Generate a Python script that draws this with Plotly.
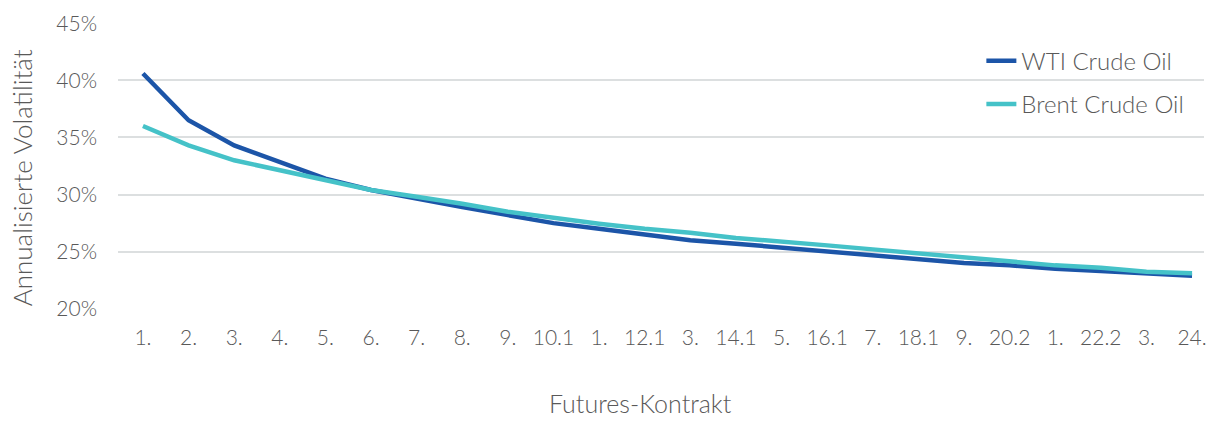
import plotly.graph_objects as go

contracts = list(range(1, 25))
tick_labels = ["1.", "2.", "3.", "4.", "5.", "6.", "7.", "8.", "9.", "10.1",
               "1.", "12.1", "3.", "14.1", "5.", "16.1", "7.", "18.1", "9.", "20.2",
               "1.", "22.2", "3.", "24."]
y_ticks = [20, 25, 30, 35, 40, 45]
y_tick_labels = ["20%", "25%", "30%", "35%", "40%", "45%"]
wti = [40.6, 36.5, 34.3, 32.8, 31.4, 30.4, 29.6, 28.9, 28.2, 27.5, 27.0, 26.5,
       26.0, 25.7, 25.35, 25.0, 24.65, 24.3, 24.0, 23.8, 23.5, 23.3, 23.1, 22.9]
brent = [36.0, 34.3, 33.0, 32.1, 31.2, 30.4, 29.8, 29.2, 28.5, 27.95, 27.45, 27.0,
         26.65, 26.2, 25.9, 25.55, 25.2, 24.85, 24.5, 24.1, 23.8, 23.6, 23.25, 23.1]

font_family = "Lato, 'Open Sans', sans-serif"
grey = "#595959"
W, H = 1207, 421

fig = go.Figure()
fig.add_trace(go.Scatter(x=contracts, y=wti, mode="lines", name="WTI Crude Oil",
                         legendgroup="a",
                         line=dict(color="#1c55a8", width=4.5)))
fig.add_trace(go.Scatter(x=contracts, y=brent, mode="lines", name="Brent Crude Oil",
                         legendgroup="b",
                         line=dict(color="#45c2c8", width=4.5)))

fig.update_layout(
    width=W, height=H,
    margin=dict(l=118, r=0, t=23, b=112),
    paper_bgcolor="white", plot_bgcolor="white",
    font=dict(family=font_family, color=grey, size=21, weight=300),
    showlegend=True,
    legend=dict(x=0.795, y=0.945, xanchor="left", yanchor="top",
                bgcolor="rgba(0,0,0,0)", tracegroupgap=9,
                font=dict(size=24, color=grey, weight=300)),
    xaxis=dict(
        tickmode="array", tickvals=contracts, ticktext=tick_labels,
        range=[0.453, 24.262], showgrid=False, zeroline=False, showline=False,
        ticks="", tickfont=dict(size=21, color=grey, weight=300), ticklabelstandoff=14,
        ticklabeloverflow="allow",
    ),
    yaxis=dict(
        range=[19.98, 45.02], tickmode="array", tickvals=y_ticks, ticktext=y_tick_labels,
        showgrid=True, gridcolor="#dcdfe0", gridwidth=1.5, zeroline=False, showline=False,
        ticks="", tickfont=dict(size=21, color=grey, weight=300), ticklabelstandoff=20,
    ),
    annotations=[
        dict(text="Futures-Kontrakt", xref="paper", yref="paper",
             x=(642 - 118) / (W - 118), y=-(403 - 309) / (309 - 23),
             xanchor="center", yanchor="middle", showarrow=False, borderpad=0,
             font=dict(size=25, color=grey, weight=300)),
        dict(text="Annualisierte Volatilität", xref="paper", yref="paper",
             x=-(118 - 22) / (W - 118), y=(309 - 178) / (309 - 23),
             xanchor="center", yanchor="middle", textangle=-90, showarrow=False,
             font=dict(size=26, color=grey, weight=300)),
    ],
)

fig.write_html("out.html")
